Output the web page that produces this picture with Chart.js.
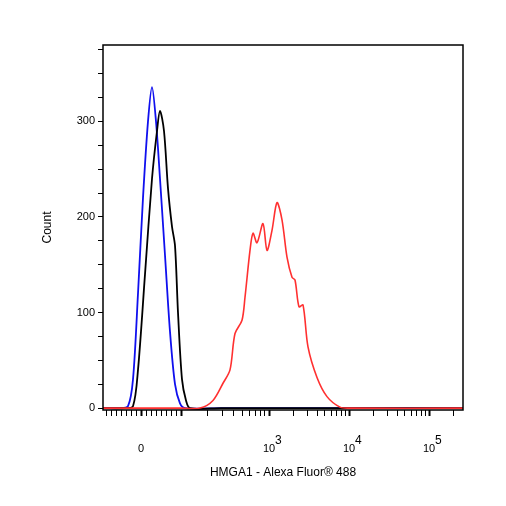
<!DOCTYPE html>
<html><head><meta charset="utf-8">
<script src="https://cdn.jsdelivr.net/npm/chart.js@4"></script>
<style>body{margin:0;background:#fff}</style>
</head><body>
<canvas id="c" width="506" height="506"></canvas>
<script>
// x in display units (biexponential axis position; 0 = value 0)
const blueX = [-38,-21,-13,-8,-3,2,7,11,15,19,24,29,34,39,44,80,150,322];
const blueY = [0,0,2,30,120,220,300,336,300,240,160,80,25,5,0,0,0,0];
const blackX = [-38,-16,-8,-3,4,11,16,19,23,27,31,34,37,41,45,49,80,150,322];
const blackY = [0,0,2,40,140,240,290,311,290,230,190,170,100,30,8,0,0,0,0];
const redX = [-38,0,39,59,72,82,89,94,101,104,109,112,116,122,126,131,136,141,146,151,154,158,162,167,176,186,199,209,322];
const redY = [0,0,0,0,8,26,40,78,92,116,165,183,173,193,165,186,215,197,158,137,134,106,108,64,32,12,1,0,0];
const xTickPos = [0,40,128,208,288];
const xTickBase = ['0','','10','10','10'];
const xTickExp = ['','','3','4','5'];
const yTickLabels = [0,100,200,300];

const pts=(xs,ys)=>xs.map((x,i)=>({x,y:ys[i]}));
const frame={id:'frame',afterDraw(c){const a=c.chartArea,g=c.ctx;g.save();g.strokeStyle='#000';g.lineWidth=1.5;g.strokeRect(a.left,a.top,a.right-a.left,a.bottom-a.top);
  const xs=c.scales.x;g.fillStyle='#000';g.textBaseline='alphabetic';
  xTickPos.forEach((p,i)=>{if(!xTickBase[i])return;const px=xs.getPixelForValue(p);g.font='11px "Liberation Sans"';g.textAlign='center';g.fillText(xTickBase[i],px,452);
    if(xTickExp[i]){const w=g.measureText(xTickBase[i]).width;g.font='12px "Liberation Sans"';g.textAlign='left';g.fillText(xTickExp[i],px+w/2,444);}});
  g.restore();}};
function minorX(){
  const t=[];
  for(let v=-35;v<40;v+=5) t.push(v);
  const dec=[[40,128],[128,208],[208,288],[288,368]];
  for(const [s,e] of dec){t.push(s);for(let k=2;k<10;k++){const p=s+(e-s)*Math.log10(k);if(p<=322)t.push(p);}}
  return t;
}
new Chart(document.getElementById('c'),{
  type:'line',
  data:{datasets:[
    {data:pts(redX,redY),borderColor:'#ff3030',borderWidth:1.6,pointRadius:0,tension:0.3},
    {data:pts(blackX,blackY),borderColor:'#000',borderWidth:1.8,pointRadius:0,tension:0.3},
    {data:pts(blueX,blueY),borderColor:'#1010ee',borderWidth:1.8,pointRadius:0,tension:0.3}
  ]},
  options:{responsive:false,animation:false,
    layout:{padding:{top:45,right:43,left:36,bottom:22}},
    plugins:{legend:{display:false},tooltip:{enabled:false}},
    scales:{
      x:{type:'linear',min:-38,max:322,
        afterBuildTicks(s){s.ticks=minorX().map(v=>({value:v}));},
        afterFit(s){s.height=74;},
        grid:{drawOnChartArea:false,tickLength:6,tickColor:'#000',tickWidth:ctx=>xTickPos.some(p=>Math.abs(p-ctx.tick.value)<0.5)?2:1},
        border:{display:false},
        ticks:{autoSkip:false,maxRotation:0,color:'#000',callback(){return '';}},
        title:{display:true,text:'HMGA1 - Alexa Fluor® 488',color:'#000',font:{family:'Liberation Sans',size:12}}
      },
      y:{min:-2,max:380,
        afterBuildTicks(s){const t=[];for(let v=0;v<=375;v+=25)t.push({value:v});s.ticks=t;},
        afterFit(s){s.width=67;},
        grid:{drawOnChartArea:false,tickLength:5,tickColor:'#000'},
        border:{display:false},
        ticks:{autoSkip:false,padding:3,color:'#000',font:{family:'Liberation Sans',size:11},
          callback(v){return yTickLabels.includes(v)?String(v):'';}},
        title:{display:true,text:'Count',color:'#000',font:{family:'Liberation Sans',size:12}}
      }
    }
  },
  plugins:[frame]
});
</script>
</body></html>
